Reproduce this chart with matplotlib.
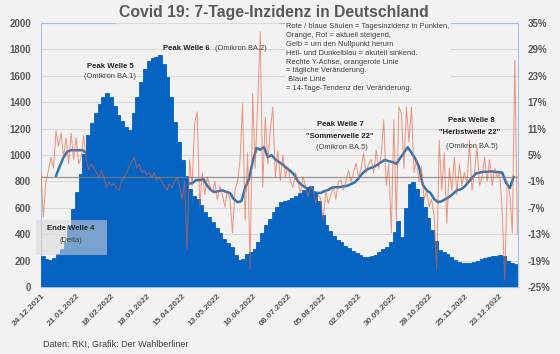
import numpy as np
import pandas as pd
import matplotlib
matplotlib.use('Agg')
import matplotlib.pyplot as plt
from matplotlib.patches import Rectangle

"""Covid 19: 7-Tage-Inzidenz in Deutschland, 24.12.2021 - Anfang 2023"""

# 7-Tage-Inzidenz, alle 3 Tage ab 24.12.2021
incidence = [
    235, 215, 205, 220, 250, 290, 345, 460, 590, 720,
    855, 1010, 1150, 1240, 1320, 1385, 1440, 1470, 1440, 1370,
    1305, 1260, 1210, 1190, 1320, 1440, 1550, 1650, 1710, 1735,
    1745, 1758, 1690, 1590, 1440, 1250, 1100, 960, 840, 740,
    690, 665, 620, 570, 530, 495, 445, 410, 365, 335,
    300, 240, 205, 215, 250, 268, 285, 345, 410, 470,
    515, 570, 610, 645, 650, 660, 675, 690, 712, 735,
    755, 765, 712, 650, 545, 470, 425, 385, 360, 340,
    310, 295, 275, 260, 245, 225, 225, 235, 245, 265,
    285, 300, 345, 420, 500, 380, 600, 780, 795, 740,
    680, 605, 520, 430, 350, 280, 265, 250, 230, 205,
    190, 182, 180, 182, 188, 200, 212, 220, 227, 232,
    238, 242, 232, 200, 185, 175]

# 14-Tage-Tendenz in %, alle 3 Tage ab 05.01.2022
trend = [
    0.3, 2.5, 4.5, 5.8, 6.1, 6.1, 6.1, 6.1, 5.5, 4.5,
    3.5, 2.5, 1.5, 0.5, -0.5, -1.5, -2.0, -1.5, -0.5, 1.0,
    2.5, 3.5, 3.5, 3.0, 2.0, 1.0, 0.5, -0.5, -1.5, -2.5,
    -3.0, -3.5, -3.0, -2.5, -2.0, -1.5, -1.4, -0.7, -0.7, -0.5,
    -2.0, -3.0, -3.4, -3.2, -3.0, -3.4, -3.6, -5.0, -5.7, -5.5,
    -2.5, -0.5, 3.5, 6.6, 6.2, 6.8, 4.5, 5.0, 4.0, 3.4,
    2.8, 2.0, 1.4, 0.5, -1.0, -1.8, -2.4, -3.0, -3.4, -3.6,
    -3.6, -3.2, -2.9, -2.4, -2.3, -2.3, -2.1, -2.0, -1.6, -1.2,
    -0.3, 0.8, 1.6, 2.0, 2.3, 2.8, 3.4, 3.9, 3.6, 3.4,
    3.0, 4.3, 5.5, 6.8, 5.5, 4.2, 2.3, -1.8, -3.0, -3.6,
    -5.0, -5.7, -5.5, -5.0, -4.5, -3.8, -3.0, -2.8, -2.2, -1.2,
    -0.2, 0.8, 1.0, 1.2, 1.2, 1.3, 1.2, 1.1, 1.0, -1.3,
    -2.5, 0.0]

# taegliche Veraenderung in %, alle 2 Tage ab 24.12.2021
daily_change = [
    1.0, -9.0, -1.0, 1.5, 4.5, 2.0, 10.5, 7.0, 10.0, 4.5,
    9.0, 3.0, 10.0, 4.0, 9.0, 3.0, 4.5, 9.5, 4.0, 1.6,
    3.0, 2.0, 1.0, 0.0, 1.5, 0.0, -2.3, -1.0, -2.0, -1.5,
    -2.5, -3.0, -1.0, 0.0, 1.0, 2.3, 3.5, 4.5, 2.0, 3.0,
    1.0, 1.6, 0.5, 1.0, 0.0, 1.0, -0.7, 0.0, -1.0, -2.0,
    -3.0, -1.5, -2.5, -1.0, 0.0, -2.0, -5.2, -1.0, -16.6, 3.9,
    -2.0, 12.3, 14.8, -6.8, 1.0, -4.0, 0.0, -2.0, -3.6, -1.0,
    -5.2, -2.0, -4.0, -6.8, -3.0, -5.0, -12.7, -3.0, -1.0, 3.9,
    16.8, -9.8, 5.5, -21.0, 19.0, 2.0, 16.8, 33.0, -2.3, 13.6,
    3.0, 10.7, 15.9, 0.0, 6.0, -0.7, 5.0, 0.0, 2.3, -1.0,
    -2.3, 1.0, -1.0, -3.6, 0.0, -2.0, -4.5, -2.0, -3.0, -6.0,
    -4.0, -5.0, -9.8, -3.0, -6.0, -4.0, -2.3, -5.0, -1.0, -0.7,
    -3.0, -1.0, 1.6, -1.0, 1.0, 3.2, 0.0, 2.0, 5.5, 1.0,
    3.0, 4.0, 1.0, 6.1, 2.0, 5.0, 13.0, -2.0, 3.0, -12.7,
    13.0, -9.8, 16.0, 14.5, 2.0, 15.9, 8.0, 15.9, 1.0, 4.0,
    -1.0, 2.3, -5.2, -3.0, -6.8, -5.0, -9.0, -21.0, 8.4, -3.0,
    5.5, -10.5, 2.0, -3.0, 4.5, -4.0, 3.0, -2.0, 1.0, -1.6,
    8.4, -3.0, 1.0, 6.8, -2.0, 0.0, 4.5, -1.0, 3.9, -2.0,
    2.0, 0.0, 1.0, -8.2, -23.4, -1.0, -4.0, -12.7, 26.6, -13.0]

tick_labels = ['24.12.2021', '21.01.2022', '18.02.2022', '18.03.2022', '15.04.2022',
               '13.05.2022', '10.06.2022', '08.07.2022', '05.08.2022', '02.09.2022',
               '30.09.2022', '28.10.2022', '25.11.2022', '23.12.2022']
left_ticks = [0, 200, 400, 600, 800, 1000, 1200, 1400, 1600, 1800, 2000]
right_ticks = [-25, -19, -13, -7, -1, 5, 11, 17, 23, 29, 35]
right_labels = ['-25%', '-19%', '-13%', '-7%', '-1%', '5%', '11%', '17%', '23%', '29%', '35%']

legend_lines = ['Rote / blaue Säulen = Tagesinzidenz in Punkten,',
                'Orange, Rot = aktuell steigend,',
                'Gelb = um den Nullpunkt herum',
                'Hell- und Dunkelblau = akutell sinkend.',
                'Rechte Y-Achse, orangerote Linie',
                '= tägliche Veränderung.',
                ' Blaue Linie',
                '= 14-Tage-Tendenz der Veränderung.']

plt.rcParams['font.family'] = ['Liberation Sans', 'DejaVu Sans']
bg = '#F2F2F2'
frame = '#9DC3E6'
grey = '#595959'
bar_col = '#0563C1'

start = pd.Timestamp('2021-12-24')
inc_x = start + pd.to_timedelta(np.arange(len(incidence)) * 3, unit='D')
trend_x = start + pd.Timedelta(days=12) + pd.to_timedelta(np.arange(len(trend)) * 3, unit='D')
change_x = start + pd.to_timedelta(np.arange(len(daily_change)) * 2, unit='D')
tick_x = pd.to_datetime(tick_labels, format='%d.%m.%Y')

fig = plt.figure(figsize=(5.6, 3.54), dpi=100, facecolor=bg)
ax = fig.add_axes([0.073, 0.189, 0.852, 0.746])
ax.set_facecolor(bg)
axb = ax.twinx()
axo = ax.twinx()

# base layer: grid + blue trend (right scale)
ax.set_ylim(-25, 35)
ax.grid(axis='y', color='#D9D9D9', lw=0.8)
ax.set_axisbelow(True)
ax.plot(trend_x, trend, color='#2E75B6', lw=1.8, zorder=3)

# bars (left scale)
axb.bar(inc_x, incidence, width=3, align='edge', color=bar_col,
        edgecolor=bar_col, linewidth=0.6)
axb.set_ylim(0, 2000)

# orange line on top
axo.set_ylim(-25, 35)
axo.axhline(0, color='#7F7F7F', lw=1.0, alpha=0.75)
axo.plot(change_x, daily_change, color='#E4613F', lw=0.75, alpha=0.62)
axo.set_yticks([])

ax.set_xlim(start, start + pd.Timedelta(days=378.5))

# axes ticks
axb.yaxis.tick_left()
axb.set_yticks(left_ticks)
axb.set_yticklabels([str(v) for v in left_ticks], fontweight='bold')
axb.tick_params(axis='y', length=0, pad=7, labelsize=7, labelcolor=grey)
ax.yaxis.tick_right()
ax.set_yticks(right_ticks)
ax.set_yticklabels(right_labels, fontweight='bold')
ax.tick_params(axis='y', length=0, pad=7, labelsize=7, labelcolor=grey)
ax.set_xticks(tick_x)
ax.set_xticklabels(tick_labels, rotation=45, ha='right', rotation_mode='anchor',
                   fontweight='bold')
ax.tick_params(axis='x', length=0, pad=4, labelsize=6, labelcolor=grey)

for a in (axb, axo):
    for s in a.spines.values():
        s.set_visible(False)
ax.spines['top'].set_visible(False)
for s in ('left', 'right', 'bottom'):
    ax.spines[s].set_color(frame)
    ax.spines[s].set_linewidth(0.8)
ax.axhline(35, xmin=0, xmax=0.155, color=frame, lw=0.8, clip_on=False)
ax.axhline(35, xmin=0.50, xmax=1, color=frame, lw=0.8, clip_on=False)

def px(x, y):
    return x / 560, 1 - y / 354

fig.text(*px(274, 12), 'Covid 19: 7-Tage-Inzidenz in Deutschland', ha='center', va='center',
         fontsize=11.3, fontweight='bold', color=grey)
fig.text(*px(43, 344), 'Daten: RKI, Grafik: Der Wahlberliner', va='center',
         fontsize=6.5, color='#404040')

fig.text(*px(286, 23), '\n'.join(legend_lines), ha='left', va='top', fontsize=5.4,
         linespacing=1.38, color='#404040',
         bbox=dict(facecolor=bg, edgecolor='none', pad=1))

bold = dict(ha='center', va='center', fontsize=5.6, fontweight='bold', color='#262626')
norm = dict(ha='center', va='center', fontsize=5.4, color='#404040')
fig.text(*px(110, 66), 'Peak Welle 5', **bold)
fig.text(*px(110, 76), '(Omikron BA.1)', **norm)
fig.text(*px(163, 49), 'Peak Welle 6', ha='left', va='center', fontsize=5.6,
         fontweight='bold', color='#262626')
fig.text(*px(215, 49), '(Omikron BA.2)', ha='left', va='center', fontsize=5.4, color='#404040')
fig.text(*px(340, 125), 'Peak Welle 7', **bold)
fig.text(*px(340, 136), '"Sommerwelle 22"', **bold)
fig.text(*px(342, 148), '(Omikron BA.5)', **norm)
fig.text(*px(471, 121), 'Peak Welle 8', **bold)
fig.text(*px(470, 132), '"Herbstwelle 22"', **bold)
fig.text(*px(472, 146), '(Omikron BA.5)', **norm)

fig.add_artist(Rectangle(px(36, 255), 71 / 560, 35 / 354, transform=fig.transFigure,
                         facecolor='#D9D9D9', alpha=0.55, edgecolor='none', zorder=2.5))
fig.text(*px(71, 228), 'Ende Welle 4', **bold)
fig.text(*px(71, 240), '(Delta)', **norm)

fig.savefig('out.png', dpi=100, facecolor=bg)
